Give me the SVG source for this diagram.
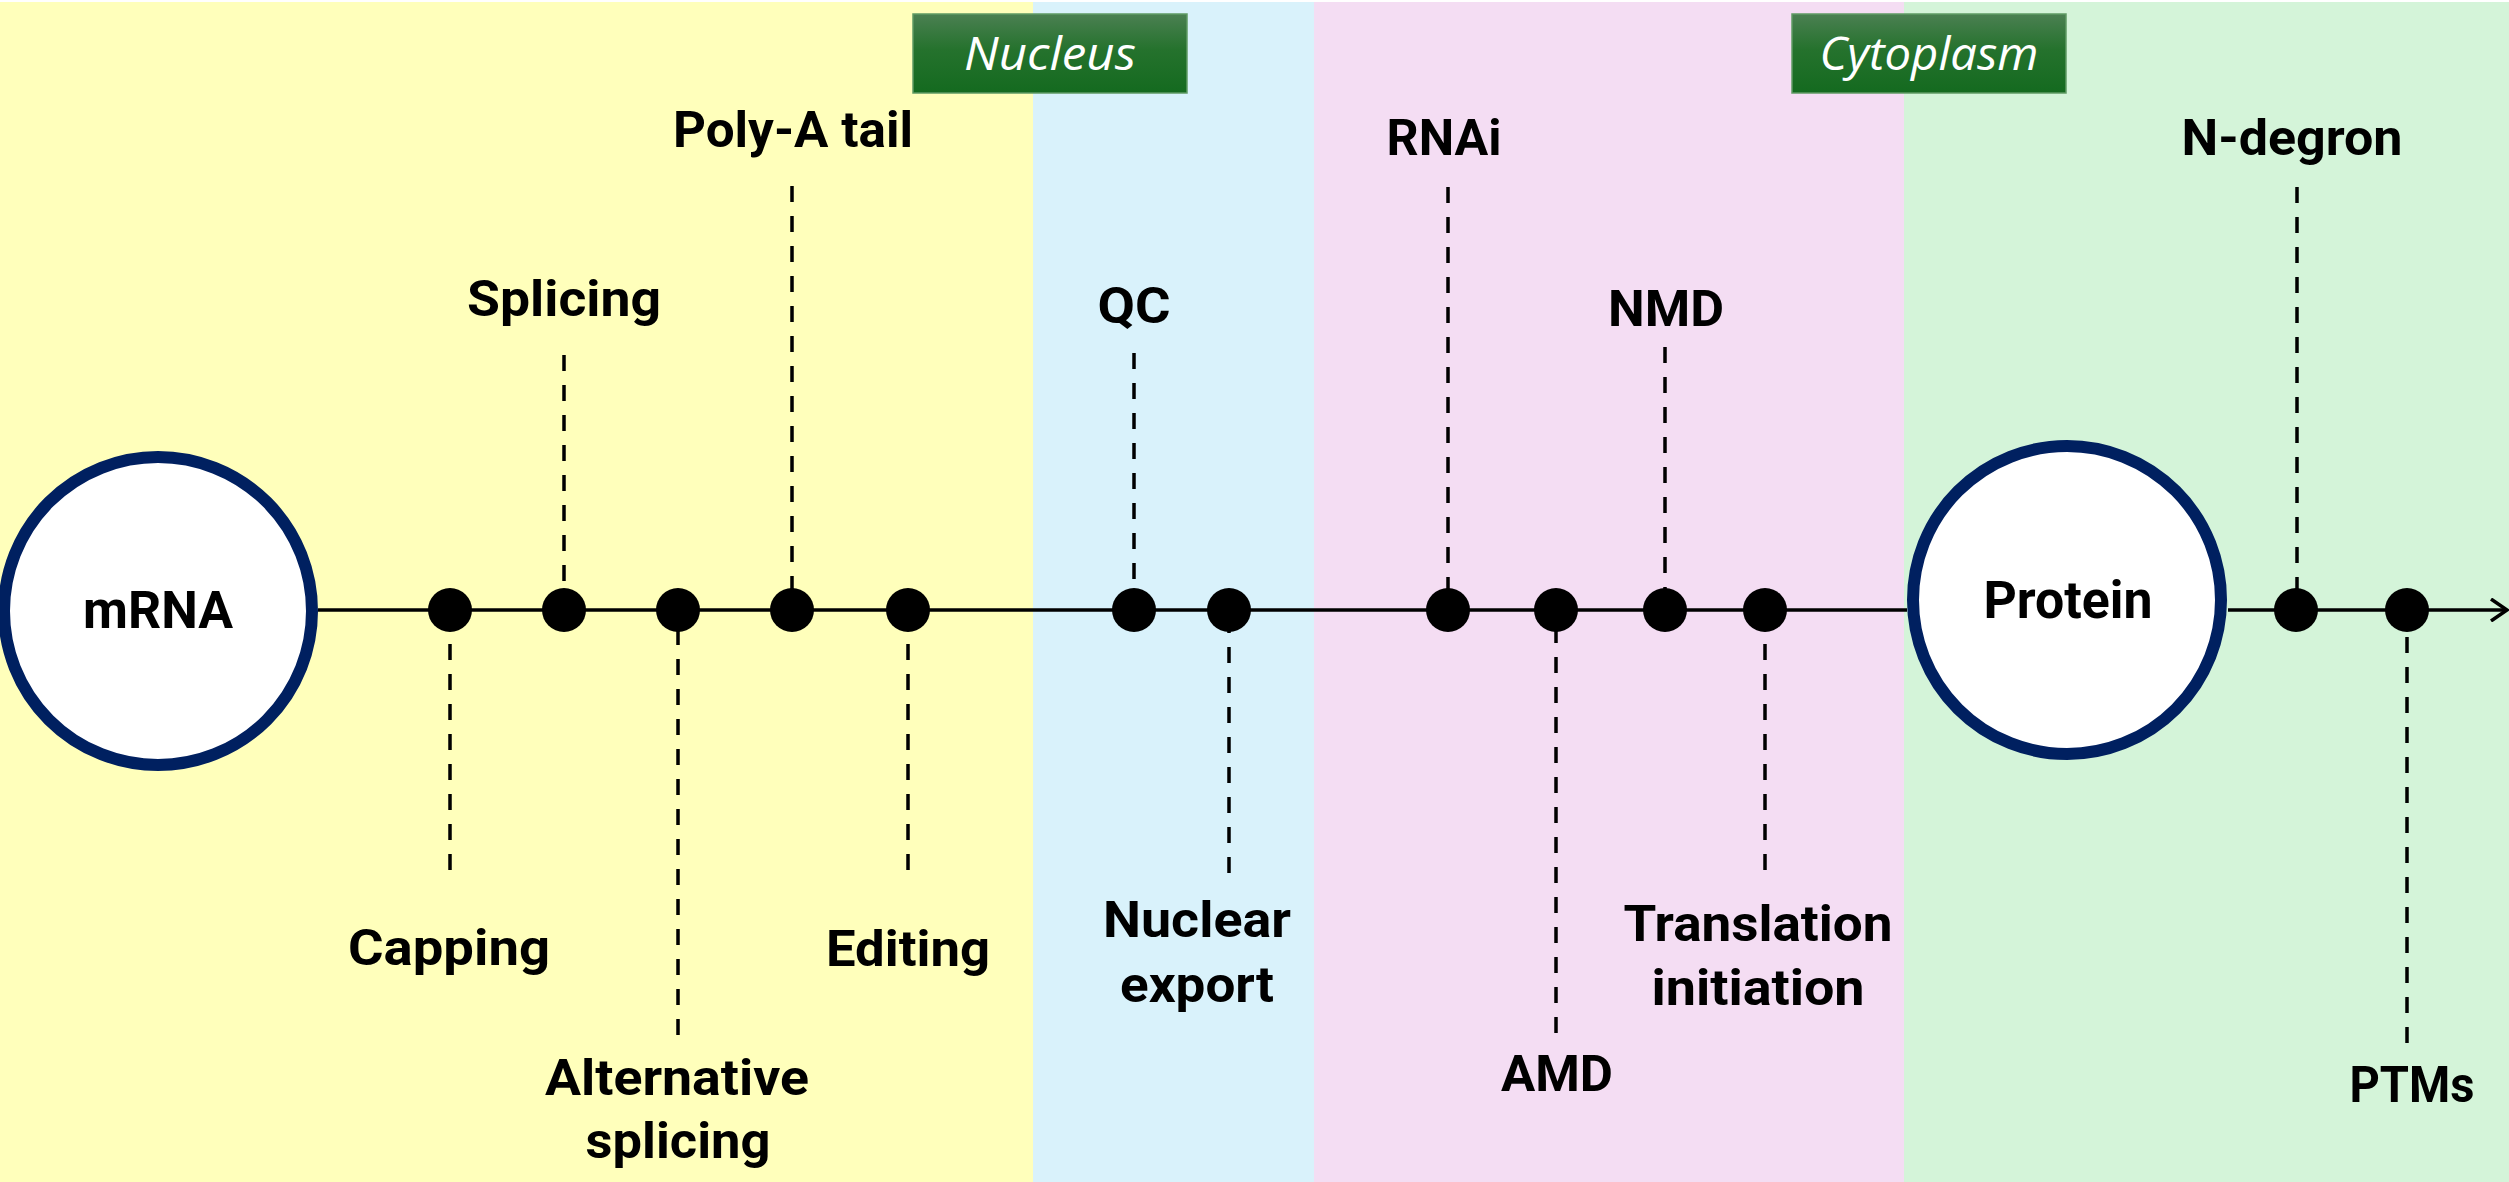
<svg xmlns="http://www.w3.org/2000/svg" width="2509" height="1182" viewBox="0 0 2509 1182">
  <defs>
    <linearGradient id="gbox" x1="0" y1="0" x2="0" y2="1">
      <stop offset="0" stop-color="#4b8052"/>
      <stop offset="0.45" stop-color="#25722d"/>
      <stop offset="1" stop-color="#146a1f"/>
    </linearGradient>
    <marker id="arrow" viewBox="0 0 20 24" refX="18" refY="12" markerWidth="20" markerHeight="24" markerUnits="userSpaceOnUse" orient="auto">
      <path d="M2,1 L18,12 L2,23" fill="none" stroke="#000" stroke-width="3.5"/>
    </marker>
  </defs>
  <style>
    .lbl { font-family: Roboto, "Liberation Sans", sans-serif; font-weight: bold; font-size: 50px; fill: #000; text-anchor: middle; }
    .hdr { font-family: "Open Sans", "Liberation Sans", sans-serif; font-style: italic; font-size: 46px; fill: #fff; text-anchor: middle; }
    .big { font-family: Roboto, "Liberation Sans", sans-serif; font-weight: bold; font-size: 51px; fill: #000; text-anchor: middle; }
    .hbox { fill: url(#gbox); stroke: #5f9a64; stroke-width: 1.5; }
    .main { stroke: #000; stroke-width: 3.5; fill: none; }
    .dash { stroke: #000; stroke-width: 3.5; stroke-dasharray: 16 14; fill: none; }
    .dot { fill: #000; }
    .circ { fill: #fff; stroke: #002060; stroke-width: 12; }
  </style>

  <!-- background regions -->
  <rect x="0" y="0" width="2509" height="1182" fill="#ffffff"/>
  <rect x="0" y="2" width="1033" height="1180" fill="#ffffbb"/>
  <rect x="1033" y="2" width="281" height="1180" fill="#d9f2fb"/>
  <rect x="1314" y="2" width="590" height="1180" fill="#f4ddf3"/>
  <rect x="1904" y="2" width="605" height="1180" fill="#d4f4d9"/>

  <!-- region headers -->
  <g id="hdr-nucleus">
    <rect class="hbox" x="913" y="14" width="274" height="79"/>
    <text class="hdr" x="1050" y="70" textLength="172" lengthAdjust="spacingAndGlyphs">Nucleus</text>
  </g>
  <g id="hdr-cytoplasm">
    <rect class="hbox" x="1792" y="14" width="274" height="79"/>
    <text class="hdr" x="1929" y="70" textLength="219" lengthAdjust="spacingAndGlyphs">Cytoplasm</text>
  </g>

  <!-- connectors -->
  <g id="connectors">
    <line class="main" x1="318" y1="610" x2="1907" y2="610"/>
    <line class="main" x1="2228" y1="610" x2="2507" y2="610" marker-end="url(#arrow)"/>
    <line class="dash" x1="564" y1="355" x2="564" y2="610"/>
    <line class="dash" x1="792" y1="186" x2="792" y2="610"/>
    <line class="dash" x1="1134" y1="353" x2="1134" y2="610"/>
    <line class="dash" x1="1448" y1="187" x2="1448" y2="610"/>
    <line class="dash" x1="1665" y1="347" x2="1665" y2="610"/>
    <line class="dash" x1="2297" y1="187" x2="2297" y2="610"/>
    <line class="dash" x1="450" y1="870" x2="450" y2="610"/>
    <line class="dash" x1="678" y1="1035" x2="678" y2="610"/>
    <line class="dash" x1="908" y1="870" x2="908" y2="610"/>
    <line class="dash" x1="1229" y1="873" x2="1229" y2="610"/>
    <line class="dash" x1="1556" y1="1033" x2="1556" y2="610"/>
    <line class="dash" x1="1765" y1="870" x2="1765" y2="610"/>
    <line class="dash" x1="2407" y1="1043" x2="2407" y2="610"/>
  </g>

  <!-- main nodes -->
  <g id="node-mrna">
    <circle class="circ" cx="158" cy="611" r="154"/>
    <text class="big" x="158" y="628" textLength="150" lengthAdjust="spacingAndGlyphs">mRNA</text>
  </g>
  <g id="node-protein">
    <circle class="circ" cx="2067" cy="600" r="154"/>
    <text class="big" x="2068" y="618" textLength="169" lengthAdjust="spacingAndGlyphs">Protein</text>
  </g>

  <!-- event nodes -->
  <g id="node-capping">
    <circle class="dot" cx="450" cy="610" r="22"/>
    <text class="lbl" x="449" y="965" textLength="202" lengthAdjust="spacingAndGlyphs">Capping</text>
  </g>
  <g id="node-splicing">
    <circle class="dot" cx="564" cy="610" r="22"/>
    <text class="lbl" x="564" y="316" textLength="194" lengthAdjust="spacingAndGlyphs">Splicing</text>
  </g>
  <g id="node-alt-splicing">
    <circle class="dot" cx="678" cy="610" r="22"/>
    <text class="lbl" x="677" y="1095" textLength="264" lengthAdjust="spacingAndGlyphs">Alternative</text>
    <text class="lbl" x="678" y="1158" textLength="185" lengthAdjust="spacingAndGlyphs">splicing</text>
  </g>
  <g id="node-polya">
    <circle class="dot" cx="792" cy="610" r="22"/>
    <text class="lbl" x="793" y="147" textLength="240" lengthAdjust="spacingAndGlyphs">Poly-A tail</text>
  </g>
  <g id="node-editing">
    <circle class="dot" cx="908" cy="610" r="22"/>
    <text class="lbl" x="908" y="966" textLength="164" lengthAdjust="spacingAndGlyphs">Editing</text>
  </g>
  <g id="node-qc">
    <circle class="dot" cx="1134" cy="610" r="22"/>
    <text class="lbl" x="1134" y="323" textLength="73" lengthAdjust="spacingAndGlyphs">QC</text>
  </g>
  <g id="node-export">
    <circle class="dot" cx="1229" cy="610" r="22"/>
    <text class="lbl" x="1197" y="937" textLength="188" lengthAdjust="spacingAndGlyphs">Nuclear</text>
    <text class="lbl" x="1197" y="1002" textLength="154" lengthAdjust="spacingAndGlyphs">export</text>
  </g>
  <g id="node-rnai">
    <circle class="dot" cx="1448" cy="610" r="22"/>
    <text class="lbl" x="1444" y="155" textLength="115" lengthAdjust="spacingAndGlyphs">RNAi</text>
  </g>
  <g id="node-amd">
    <circle class="dot" cx="1556" cy="610" r="22"/>
    <text class="lbl" x="1557" y="1091" textLength="112" lengthAdjust="spacingAndGlyphs">AMD</text>
  </g>
  <g id="node-nmd">
    <circle class="dot" cx="1665" cy="610" r="22"/>
    <text class="lbl" x="1666" y="326" textLength="116" lengthAdjust="spacingAndGlyphs">NMD</text>
  </g>
  <g id="node-translation">
    <circle class="dot" cx="1765" cy="610" r="22"/>
    <text class="lbl" x="1758" y="941" textLength="269" lengthAdjust="spacingAndGlyphs">Translation</text>
    <text class="lbl" x="1758" y="1005" textLength="213" lengthAdjust="spacingAndGlyphs">initiation</text>
  </g>
  <g id="node-ndegron">
    <circle class="dot" cx="2296" cy="610" r="22"/>
    <text class="lbl" x="2292" y="155" textLength="221" lengthAdjust="spacingAndGlyphs">N-degron</text>
  </g>
  <g id="node-ptms">
    <circle class="dot" cx="2407" cy="610" r="22"/>
    <text class="lbl" x="2412" y="1102" textLength="125" lengthAdjust="spacingAndGlyphs">PTMs</text>
  </g>
</svg>
